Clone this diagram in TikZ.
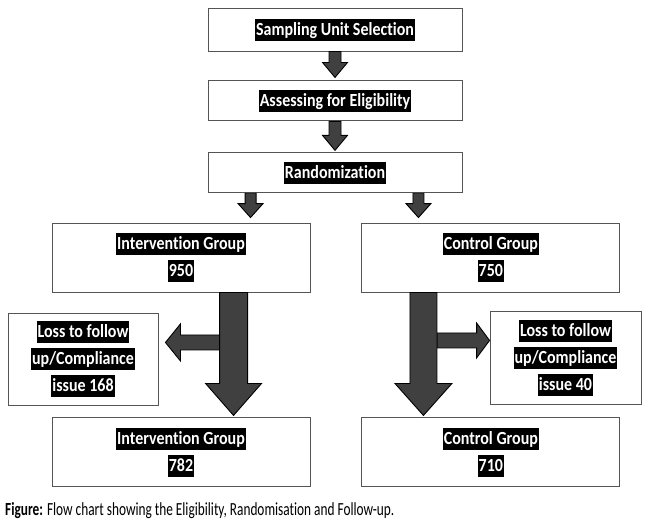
\documentclass[tikz,border=0pt]{standalone}
\usepackage{fontspec}
\setmainfont{Carlito}
\newfontfamily\boxfont[FakeStretch=0.865, Ligatures=CommonOff]{Carlito}
\newfontfamily\capfont[FakeStretch=0.72, Ligatures=CommonOff]{Carlito}
\usetikzlibrary{
    positioning,
    calc,
}
\definecolor{arrowgray}{HTML}{404040}
\definecolor{boxline}{HTML}{555555}
\tikzstyle{box} = [rectangle, draw=boxline, line width=0.9pt,
    inner sep=0pt, align=center, font=\boxfont\fontsize{18.5}{27}\selectfont\bfseries]
\tikzstyle{fat} = [draw=black, line width=0.9pt, fill=arrowgray, line join=miter]
% black highlight behind each line of text
\newcommand{\hl}[1]{{\fboxsep=1pt\colorbox{black}{\rule[-4.5pt]{0pt}{20pt}\textcolor{white}{#1}}}}
% block arrow: start, tip, half shaft, half head, head length
\newcommand{\fatarrow}[5]{%
    \path (#2) coordinate (fattip) ($(#2)!#5!(#1)$) coordinate (fatbase);
    \draw[fat] ($(#1)!#3!90:(#2)$) -- ($(fatbase)!#3!90:(fattip)$)
        -- ($(fatbase)!#4!90:(fattip)$) -- (fattip)
        -- ($(fatbase)!#4!-90:(fattip)$) -- ($(fatbase)!#3!-90:(fattip)$)
        -- ($(#1)!#3!-90:(#2)$) -- cycle;}

\begin{document}
\begin{tikzpicture}[x=1pt, y=-1pt]
        \useasboundingbox (0,0) rectangle (650,525);
        % Place nodes
        \node [box, minimum width=254pt, minimum height=43pt] (sel) at (335,29.5) {\hl{Sampling Unit Selection}};
        \node [box, minimum width=254pt, minimum height=40pt, below=29pt of sel] (elig) {\hl{Assessing for Eligibility}};
        \node [box, minimum width=254pt, minimum height=40pt, below=31pt of elig] (rand) {\hl{Randomization}};
        \node [box, minimum width=258pt, minimum height=69pt] (int1) at (181,257.5) {\hl{Intervention Group}\\\hl{950}};
        \node [box, minimum width=258pt, minimum height=69pt, right=51pt of int1] (ctl1) {\hl{Control Group}\\\hl{750}};
        \node [box, minimum width=150pt, minimum height=92pt] (loss1) at (83,359) {\hl{Loss to follow}\\\hl{up/Compliance}\\\hl{issue 168}};
        \node [box, minimum width=151pt, minimum height=93pt] (loss2) at (565.5,357.5) {\hl{Loss to follow}\\\hl{up/Compliance}\\\hl{issue 40}};
        \node [box, minimum width=258pt, minimum height=69pt, below=125pt of int1] (int2) {\hl{Intervention Group}\\\hl{782}};
        \node [box, minimum width=258pt, minimum height=69pt, below=125pt of ctl1] (ctl2) {\hl{Control Group}\\\hl{710}};
        \node [anchor=base west, inner sep=0pt, font=\capfont\fontsize{18.5}{20}\selectfont] (cap) at (5,515)
            {\textbf{Figure:} Flow chart showing the Eligibility, Randomisation and Follow-up.};
        % Arrow ends
        \coordinate (t1) at ($(elig.north)+(0,-3)$);
        \coordinate (t2) at ($(rand.north)+(0,-2)$);
        \coordinate (r1) at ($(rand.south west)+(43,0)$);
        \coordinate (r2) at ($(rand.south east)+(-44,0)$);
        \coordinate (r1t) at ($(r1 |- int1.north)+(0,-5)$);
        \coordinate (r2t) at ($(r2 |- ctl1.north)+(0,-5)$);
        \coordinate (s1) at ($(int1.south west)+(182,0)$);
        \coordinate (s1t) at ($(s1 |- int2.north)+(0,-2)$);
        \coordinate (s2) at ($(ctl1.south west)+(62,0)$);
        \coordinate (s2t) at ($(s2 |- ctl2.north)+(0,-2)$);
        \coordinate (b1) at ($(s1)+(-14,50)$);
        \coordinate (b1t) at ($(b1 -| loss1.east)+(7,0)$);
        \coordinate (b2) at ($(s2)+(13.5,48)$);
        \coordinate (b2t) at (b2 -| loss2.west);
        % Draw arrows
        \fatarrow{sel.south}{t1}{6pt}{12.5pt}{15pt}
        \fatarrow{elig.south}{t2}{6pt}{12.5pt}{15pt}
        \fatarrow{r1}{r1t}{5.5pt}{12.5pt}{14pt}
        \fatarrow{r2}{r2t}{5.5pt}{12.5pt}{14pt}
        \fatarrow{b1}{b1t}{7.5pt}{18.5pt}{15pt}
        \fatarrow{b2}{b2t}{7.5pt}{17.5pt}{13pt}
        \fatarrow{s1}{s1t}{14pt}{28pt}{32pt}
        \fatarrow{s2}{s2t}{13.5pt}{28.5pt}{32pt}
    \end{tikzpicture}
\end{document}
